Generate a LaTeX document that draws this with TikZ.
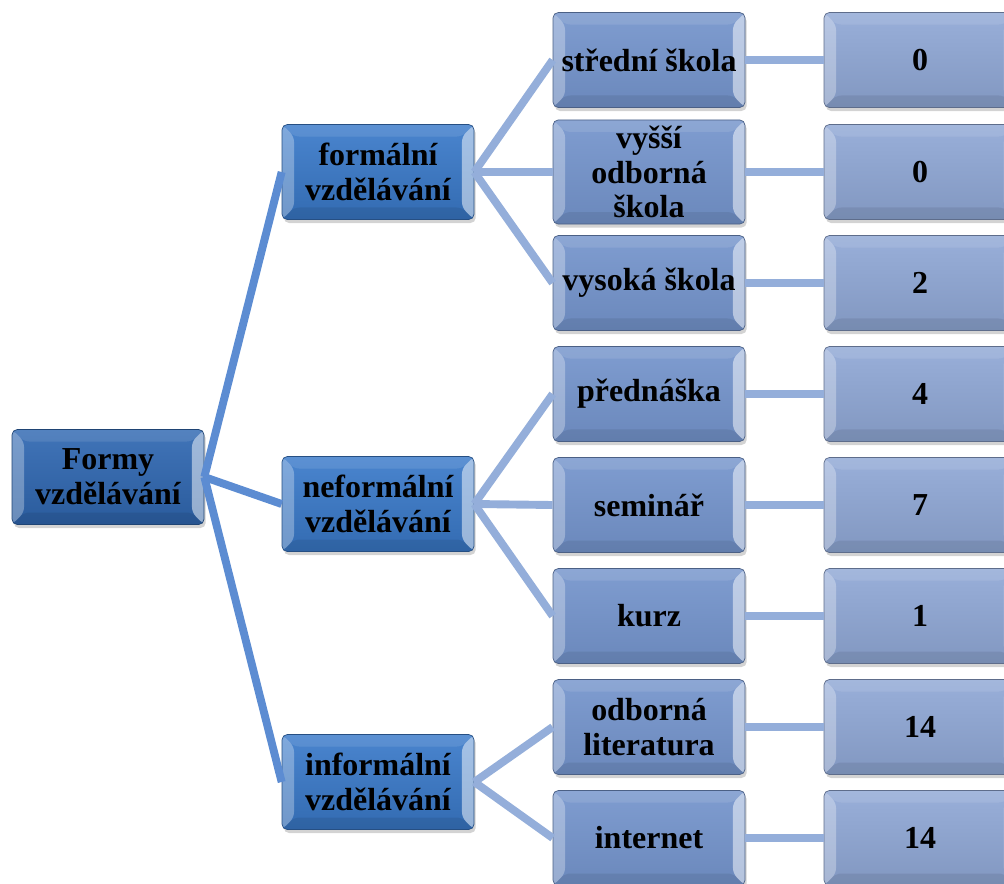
\documentclass[tikz,border=0pt]{standalone}
\usepackage{fontspec}
\setmainfont{Liberation Serif}
\usetikzlibrary{shadows}

\definecolor{rootblue}{RGB}{48,104,178}
\definecolor{midblue}{RGB}{58,122,202}
\definecolor{leafblue}{RGB}{116,148,204}
\definecolor{valblue}{RGB}{144,168,214}
\definecolor{trunkblue}{RGB}{92,140,210}
\definecolor{linkblue}{RGB}{148,174,218}

\tikzset{
  box/.style={rounded corners=3pt, minimum width=3.84cm, minimum height=1.9cm,
    align=center, font=\fontsize{18.2}{19.8}\selectfont\bfseries,
    drop shadow={shadow xshift=1pt, shadow yshift=-2pt, opacity=.35},
    path picture={
      \fill[white,opacity=.3] (path picture bounding box.north west) -- ++(12,12)
        -- ([shift={(12,-12)}]path picture bounding box.south west)
        -- (path picture bounding box.south west) -- cycle;
      \fill[white,opacity=.5] (path picture bounding box.north east) -- ++(-12,12)
        -- ([shift={(-12,-12)}]path picture bounding box.south east)
        -- (path picture bounding box.south east) -- cycle;
      \fill[white,opacity=.1] (path picture bounding box.north west) -- ++(12,12)
        -- ([shift={(-12,12)}]path picture bounding box.north east)
        -- (path picture bounding box.north east) -- cycle;
      \fill[black,opacity=.08] (path picture bounding box.south west) -- ++(12,-12)
        -- ([shift={(-12,-12)}]path picture bounding box.south east)
        -- (path picture bounding box.south east) -- cycle;
    }},
  rootbox/.style={box, top color=rootblue!92!white, bottom color=rootblue!88!black, draw=rootblue!65!black},
  midbox/.style={box, top color=midblue!92!white, bottom color=midblue!88!black, draw=midblue!65!black},
  leafbox/.style={box, top color=leafblue!92!white, bottom color=leafblue!92!black, draw=leafblue!65!black},
  valbox/.style={box, top color=valblue!92!white, bottom color=valblue!90!black, draw=valblue!65!black},
  trunk/.style={line width=4.5, draw=trunkblue},
  link/.style={line width=4.5, draw=linkblue}
}

\begin{document}
\begin{tikzpicture}[x=0.02cm, y=-0.02cm]
    \useasboundingbox (0,0) rectangle (1004,883);

    \node[rootbox] (root) at (108,477) {Formy\\vzdělávání};

    \node[midbox] (formal) at (378,172) {formální\\vzdělávání};
    \node[midbox] (neformal) at (378,504) {neformální\\vzdělávání};
    \node[midbox] (informal) at (378,782) {informální\\vzdělávání};

    \node[leafbox] (stredni) at (649,60) {střední škola};
    \node[leafbox] (vyssi) at (649,172) {vyšší\\odborná\\škola};
    \node[leafbox] (vysoka) at (649,283) {vysoká škola};
    \node[leafbox] (prednaska) at (649,394) {přednáška};
    \node[leafbox] (seminar) at (649,505) {seminář};
    \node[leafbox] (kurz) at (649,616) {kurz};
    \node[leafbox] (literatura) at (649,727) {odborná\\literatura};
    \node[leafbox] (internet) at (649,838) {internet};

    \node[valbox] (n1) at (920,60) {0};
    \node[valbox] (n2) at (920,172) {0};
    \node[valbox] (n3) at (920,283) {2};
    \node[valbox] (n4) at (920,394) {4};
    \node[valbox] (n5) at (920,505) {7};
    \node[valbox] (n6) at (920,616) {1};
    \node[valbox] (n7) at (920,727) {14};
    \node[valbox] (n8) at (920,838) {14};

    \draw[trunk] (root.east) -- (formal.west);
    \draw[trunk] (root.east) -- (neformal.west);
    \draw[trunk] (root.east) -- (informal.west);

    \foreach \leaf in {stredni,vyssi,vysoka}
      \draw[link] (formal.east) -- (\leaf.west);
    \foreach \leaf in {prednaska,seminar,kurz}
      \draw[link] (neformal.east) -- (\leaf.west);
    \foreach \leaf in {literatura,internet}
      \draw[link] (informal.east) -- (\leaf.west);

    \foreach \leaf/\num in {stredni/n1,vyssi/n2,vysoka/n3,prednaska/n4,seminar/n5,kurz/n6,literatura/n7,internet/n8}
      \draw[link] (\leaf.east) -- (\num.west);
\end{tikzpicture}
\end{document}
